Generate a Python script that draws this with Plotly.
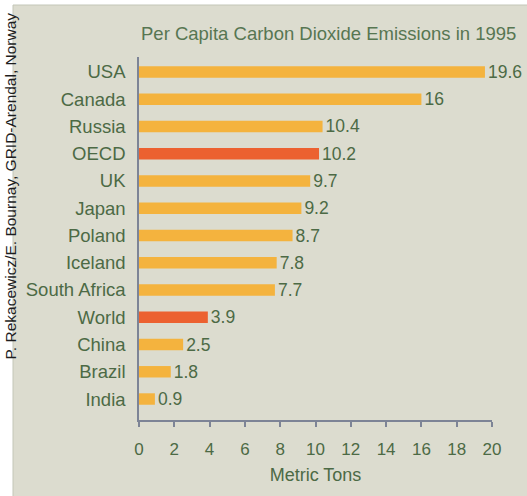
import plotly.graph_objects as go

categories = ["USA", "Canada", "Russia", "OECD", "UK", "Japan", "Poland",
              "Iceland", "South Africa", "World", "China", "Brazil", "India"]
values = [19.6, 16, 10.4, 10.2, 9.7, 9.2, 8.7, 7.8, 7.7, 3.9, 2.5, 1.8, 0.9]
value_labels = ["19.6", "16", "10.4", "10.2", "9.7", "9.2", "8.7", "7.8", "7.7",
                "3.9", "2.5", "1.8", "0.9"]
highlight = ["OECD", "World"]
x_ticks = [0, 2, 4, 6, 8, 10, 12, 14, 16, 18, 20]

ORANGE = "#f4b33e"
RED = "#ec6130"
GREEN = "#4c6a45"
PANEL = "#dcdccf"
AXIS = "#7d8496"
FONT = "Liberation Sans, Arial, sans-serif"

colors = [RED if c in highlight else ORANGE for c in categories]

fig = go.Figure(go.Bar(
    x=values, y=categories, orientation="h",
    marker=dict(color=colors, line=dict(width=0)),
    width=0.42,
    text=value_labels, textposition="outside", cliponaxis=False,
    constraintext="none",
    textfont=dict(family=FONT, size=17.5, color=GREEN),
))

W, H = 527, 496
L, R, T, B = 139, 35, 57, 76
pw, ph = W - L - R, H - T - B

def px_x(p):
    return (p - L) / pw

def px_y(p):
    return (H - B - p) / ph

fig.update_layout(
    width=W, height=H,
    margin=dict(l=L, r=R, t=T, b=B, pad=0, autoexpand=False),
    paper_bgcolor="white",
    plot_bgcolor="rgba(0,0,0,0)",
    showlegend=False,
    font=dict(family=FONT, color=GREEN),
    shapes=[dict(type="rect", xref="paper", yref="paper",
                 x0=px_x(13), x1=px_x(W + 2), y0=px_y(H + 2), y1=px_y(5),
                 fillcolor=PANEL, line=dict(color="#c3c6b8", width=1),
                 layer="below")],
    annotations=[
        dict(text="Per Capita Carbon Dioxide Emissions in 1995",
             xref="paper", yref="paper", x=px_x(328), y=px_y(33),
             xanchor="center", yanchor="middle", showarrow=False,
             font=dict(family=FONT, size=18.5, color="#577652")),
        dict(text="P. Rekacewicz/E. Bournay, GRID-Arendal, Norway",
             xref="paper", yref="paper", x=px_x(0), y=px_y(186),
             xanchor="left", yanchor="middle", showarrow=False,
             textangle=-90, borderpad=0,
             font=dict(family=FONT, size=15.5, color="#1e1e1e")),
    ],
    xaxis=dict(range=[0, 20], tickvals=x_ticks, showgrid=False, zeroline=False,
               showline=True, linecolor=AXIS, linewidth=1.5,
               ticks="outside", ticklen=5, tickcolor=AXIS, tickwidth=1.5,
               ticklabelstandoff=8,
               tickfont=dict(family=FONT, size=17, color=GREEN),
               title=dict(text="Metric Tons", standoff=10,
                          font=dict(family=FONT, size=18, color=GREEN))),
    yaxis=dict(range=[12.77, -0.55], showgrid=False, zeroline=False,
               showline=True, linecolor=AXIS, linewidth=1.5, ticks="",
               ticklabelstandoff=8,
               tickfont=dict(family=FONT, size=18.5, color=GREEN)),
)

fig.write_html("out.html",
               config={"displayModeBar": False},
               post_script="document.body.style.margin='0';document.body.style.overflow='hidden';")
